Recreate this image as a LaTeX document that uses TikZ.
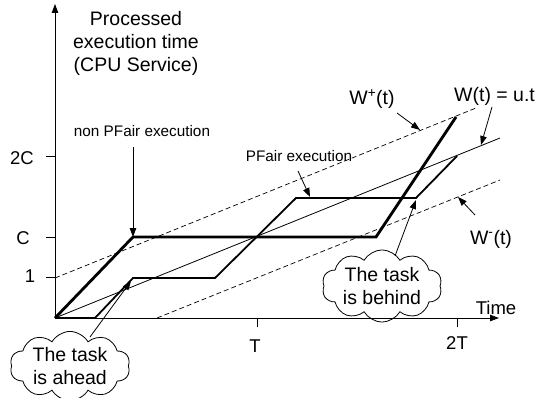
\documentclass[tikz,border=0pt]{standalone}
\usepackage{fontspec}
\setmainfont{Liberation Sans}
\usetikzlibrary{arrows.meta,shapes.symbols}
\begin{document}
\begin{tikzpicture}[x=1pt,y=-1pt,
  tip/.style={-{Triangle[length=9pt,width=6.5pt]}},
  thinln/.style={line width=0.8pt},
  pfairln/.style={line width=1.8pt, line join=miter},
  npfairln/.style={line width=2.8pt, line join=miter},
  boundln/.style={line width=0.7pt, dash pattern=on 5pt off 3pt},
  bigtxt/.style={font=\fontsize{19.5}{23}\selectfont, inner sep=0pt},
  midtxt/.style={font=\fontsize{18.5}{22}\selectfont, inner sep=0pt},
  smalltxt/.style={font=\fontsize{15.3}{18}\selectfont, inner sep=0pt},
  bubble/.style={cloud, cloud puffs=10, cloud puff arc=120, aspect=2, draw, thinln,
    align=center, inner sep=0pt, minimum width=120pt, minimum height=62pt,
    font=\fontsize{19.5}{23}\selectfont}
]
\useasboundingbox (0,0) rectangle (537,398);
% axes
\coordinate (O) at (55,318);
\coordinate (Ytop) at (55,4);
\coordinate (Xend) at (499,318);
\draw[thinln, tip] (O) -- (Ytop);
\draw[thinln, tip] (O) -- (Xend);
% y ticks
\coordinate (t2Ca) at (46,156); \coordinate (t2Cb) at (55,156);
\coordinate (tCa) at (46,237); \coordinate (tCb) at (55,237);
\coordinate (t1a) at (46,277); \coordinate (t1b) at (55,277);
\draw[thinln] (t2Ca) -- (t2Cb);
\draw[thinln] (tCa) -- (tCb);
\draw[thinln] (t1a) -- (t1b);
\node[midtxt] (l2C) at (22,158) {2C};
\node[midtxt] (lC) at (23,238) {C};
\node[midtxt] (l1) at (30,276) {1};
% x ticks
\coordinate (tTa) at (257,318); \coordinate (tTb) at (257,327);
\coordinate (t2Ta) at (457,318); \coordinate (t2Tb) at (457,327);
\draw[thinln] (tTa) -- (tTb);
\draw[thinln] (t2Ta) -- (t2Tb);
\node[midtxt] (lT) at (255,346) {T};
\node[midtxt] (l2T) at (457,343) {2T};
\node[midtxt] (ltime) at (496,308) {Time};
% y label
\node[bigtxt, align=center] (ylab) at (136,43) {Processed\\execution time\\(CPU Service)};
% W lines
\coordinate (W1) at (500,138);
\coordinate (Wp0) at (55,278); \coordinate (Wp1) at (476,108);
\coordinate (Wm0) at (157,318); \coordinate (Wm1) at (500,180);
\draw[thinln] (O) -- (W1);
\draw[boundln] (Wp0) -- (Wp1);
\draw[boundln] (Wm0) -- (Wm1);
% PFair execution
\coordinate (p1) at (95,318); \coordinate (p2) at (133,278); \coordinate (p3) at (215,278);
\coordinate (p4) at (296,198); \coordinate (p5) at (416,198); \coordinate (p6) at (457,156);
\draw[pfairln] (O) -- (p1) -- (p2) -- (p3) -- (p4) -- (p5) -- (p6);
% non PFair execution
\coordinate (n1) at (133,237); \coordinate (n2) at (376,237); \coordinate (n3) at (456,117);
\draw[npfairln] (O) -- (n1) -- (n2) -- (n3);
% labels and arrows
\node[smalltxt] (lnp) at (142,131) {non PFair execution};
\coordinate (anp0) at (133,147);
\draw[thinln, tip] (anp0) -- (n1);
\node[smalltxt] (lpf) at (299,156) {PFair execution};
\coordinate (apf0) at (298,171); \coordinate (apf1) at (310,197);
\draw[thinln, tip] (apf0) -- (apf1);
\node[bigtxt] (lwp) at (372,99) {W\textsuperscript{+}(t)};
\coordinate (awp0) at (397,113); \coordinate (awp1) at (420,130);
\draw[thinln, tip] (awp0) -- (awp1);
\node[bigtxt, anchor=west] (lw) at (454,96) {W(t) = u.t};
\coordinate (aw0) at (492,107); \coordinate (aw1) at (481,145);
\draw[thinln, tip] (aw0) -- (aw1);
\node[bigtxt] (lwm) at (491,239) {W\textsuperscript{-}(t)};
\coordinate (awm0) at (475,215); \coordinate (awm1) at (458,197);
\draw[thinln, tip] (awm0) -- (awm1);
% clouds
\node[bubble] (behind) at (382,286) {The task\\is behind};
\coordinate (abh0) at (395,256); \coordinate (abh1) at (416,200);
\draw[thinln, tip] (abh0) -- (abh1);
\node[bubble] (ahead) at (70,366) {The task\\is ahead};
\coordinate (aah0) at (90,337); \coordinate (aah1) at (131,281);
\draw[thinln, tip] (aah0) -- (aah1);
\end{tikzpicture}
\end{document}
